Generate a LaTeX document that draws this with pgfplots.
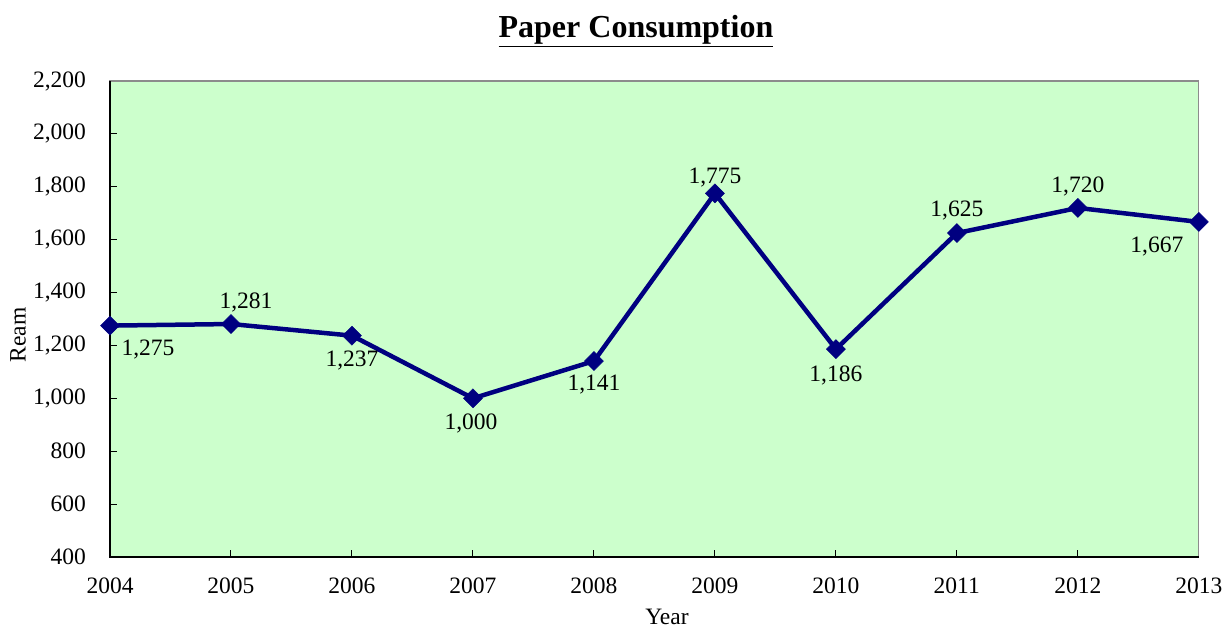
\documentclass[border=0pt]{standalone}
\usepackage{pgfplots}
\pgfplotsset{compat=1.18}
\usepackage{fontspec}
\setmainfont{Liberation Serif}
\definecolor{navyline}{HTML}{000080}
\definecolor{bggreen}{HTML}{CCFFCC}
\begin{document}
\begin{tikzpicture}
\fontsize{23.5bp}{28bp}\selectfont
\path[use as bounding box] (0,0) rectangle (1227bp,629bp);
\begin{axis}[
  at={(110bp,72bp)}, anchor=south west,
  scale only axis, width=1089bp, height=476bp,
  xmin=2004, xmax=2013, ymin=400, ymax=2200,
  xtick={2004,...,2013}, ytick={400,600,...,2200},
  /pgf/number format/.cd, 1000 sep={,}, assume math mode=true,
  /pgfplots/.cd,
  xticklabel style={/pgf/number format/1000 sep={}, yshift=-13bp},
  yticklabel style={xshift=-16bp},
  tick align=inside, xtick pos=bottom, ytick pos=left,
  major tick length=7bp,
  tick style={black, line width=1bp},
  axis line style={draw=gray!90, line width=1.2bp},
  axis background/.style={fill=bggreen},
  ticklabel style={font=\fontsize{23.5bp}{28bp}\selectfont},
  clip=false,
]
\addplot[color=navyline, line width=4.5bp, mark=diamond*, mark size=9.5bp,
  mark options={xscale=1.33, solid, fill=navyline, line width=0.5bp},
  visualization depends on={\thisrow{dx} \as \dx},
  visualization depends on={\thisrow{dy} \as \dy},
  nodes near coords,
  nodes near coords style={anchor=center, xshift=\dx bp, yshift=\dy bp, text=black, font=\fontsize{23.5bp}{28bp}\selectfont},
  point meta=y,
] table[x=x, y=y] {
x y dx dy
2004 1275 38 -24
2005 1281 15 22
2006 1237 0 -25
2007 1000 -2 -25
2008 1141 0 -24
2009 1775 0 16
2010 1186 0 -26
2011 1625 0 23
2012 1720 0 21
2013 1667 -42 -25
};
\draw[black, line width=1.5bp] (rel axis cs:0,1) -- (rel axis cs:0,0) -- (rel axis cs:1,0);
\end{axis}
\node[font=\fontsize{32bp}{38bp}\selectfont\bfseries] at (636bp,598bp) {\underline{Paper Consumption}};
\node[rotate=90] at (18bp,294bp) {Ream};
\node at (667bp,12bp) {Year};
\end{tikzpicture}
\end{document}
